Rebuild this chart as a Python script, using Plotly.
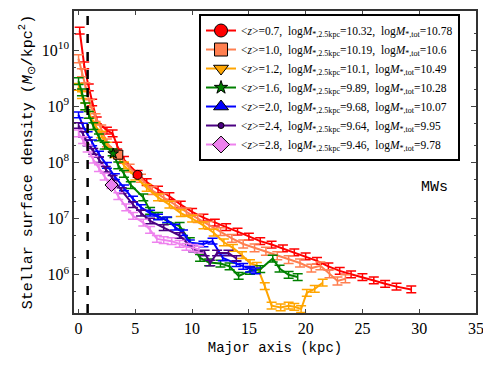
import numpy as np
import plotly.graph_objects as go

# %% data (x in kpc, y as log10 surface density)
x_z07 = [0.1, 0.5, 0.9, 1.2, 1.6, 2.5, 3.0, 3.4, 4.0, 5.2, 6, 7, 8, 9, 10, 11, 12, 13, 14, 15, 16, 17,
         18, 19, 20, 21, 22, 23, 24, 25, 26, 27, 28, 29.3]
y_z07 = [10.35, 9.73, 9.34, 9.07, 8.75, 8.57, 8.52, 8.3, 8.05, 7.8, 7.65, 7.52, 7.4, 7.25, 7.12, 7.02,
         6.93, 6.85, 6.77, 6.68, 6.6, 6.54, 6.47, 6.4, 6.33, 6.25, 6.15, 6.07, 6.01, 5.96, 5.9, 5.84,
         5.79, 5.74]

x_z10 = [0.0, 0.3, 0.6, 1.0, 1.5, 2.0, 2.5, 3.5, 4.5, 5.5, 6.5, 7.5, 8.5, 9.5, 10.5, 11.5, 12.5, 13.5,
         14.5, 15.5, 16.5, 17.5, 18.5, 19.5, 20.5, 21.3, 22.1, 22.8, 23.5]
y_z10 = [9.85, 9.6, 9.35, 9.05, 8.8, 8.6, 8.35, 8.14, 7.9, 7.72, 7.5, 7.38, 7.25, 7.12, 7.0, 6.88, 6.77,
         6.65, 6.55, 6.48, 6.42, 6.34, 6.27, 6.21, 6.12, 6.16, 6.02, 5.89, 5.93]

x_z12 = [0.0, 0.3, 0.6, 1.0, 1.5, 2.0, 2.5, 3.2, 4.0, 5.0, 6.0, 7.0, 8.0, 9.0, 10.0, 11.0, 11.9, 12.8,
         13.6, 14.4, 15.1, 15.7, 16.4, 17.0, 17.8, 18.5, 19.0, 19.6, 20.1, 20.8, 21.5]
y_z12 = [9.35, 9.2, 9.0, 8.85, 8.65, 8.5, 8.3, 8.15, 7.95, 7.75, 7.55, 7.38, 7.25, 7.1, 7.0, 6.88, 6.75,
         6.58, 6.48, 6.35, 6.21, 6.16, 5.8, 5.45, 5.42, 5.45, 5.43, 5.39, 5.68, 5.75, 5.86]

x_z16 = [0.0, 0.3, 0.6, 0.9, 1.3, 1.8, 2.3, 3.0, 3.5, 4.0, 4.6, 5.7, 6.3, 7.0, 7.8, 8.9, 9.8, 10.7, 11.5,
         12.5, 13.3, 14.1, 15.1, 16.0, 17.1, 17.7, 18.5, 19.3]
y_z16 = [9.45, 9.25, 9.0, 8.85, 8.65, 8.45, 8.3, 8.18, 7.95, 7.8, 7.6, 7.38, 7.14, 7.05, 6.96, 6.87, 6.6,
         6.3, 6.22, 6.2, 6.15, 5.98, 6.07, 6.1, 6.29, 6.11, 6.0, 5.96]

x_z20 = [0.0, 0.4, 0.8, 1.2, 1.8, 2.5, 3.2, 4.0, 4.8, 5.5, 6.3, 7.0, 7.8, 8.5, 9.2, 9.8, 11.0, 11.8,
         12.7, 13.9, 14.5, 15.1, 15.6]
y_z20 = [8.85, 8.65, 8.5, 8.35, 8.15, 7.95, 7.75, 7.55, 7.35, 7.2, 7.1, 7.03, 6.98, 6.85, 6.75, 6.57,
         6.55, 6.6, 6.3, 6.2, 6.15, 6.1, 6.07]

x_z24 = [0.0, 0.4, 0.8, 1.3, 1.8, 2.4, 3.0, 3.8, 4.8, 5.5, 6.3, 7.5, 8.9, 10.1, 11.1, 11.6, 12.2, 13.2, 13.9]
y_z24 = [8.66, 8.5, 8.35, 8.2, 8.05, 7.88, 7.72, 7.5, 7.25, 7.1, 6.96, 6.84, 6.7, 6.46, 6.39, 6.21, 6.39,
         6.39, 6.29]

x_z28 = [0.0, 0.4, 0.8, 1.3, 1.8, 2.3, 2.9, 3.5, 4.2, 4.8, 5.7, 6.3, 6.9, 7.5, 8.2, 8.9, 9.5, 10.1, 10.6]
y_z28 = [8.52, 8.4, 8.25, 8.05, 7.9, 7.75, 7.6, 7.4, 7.2, 7.05, 6.93, 6.8, 6.64, 6.62, 6.6, 6.55, 6.5,
         6.48, 6.45]

# error bars in dex, one per series
err_dex = [0.06, 0.07, 0.06, 0.06, 0.05, 0.05, 0.06]

# single marker drawn on some profiles (x kpc, log y); None = not visible
mark_x = [5.2, 3.5, None, 3.05, None, None, 2.9]
mark_y = [7.78, 8.14, None, 8.16, None, None, 7.6]

z_mean = ['0.7', '1.0', '1.2', '1.6', '2.0', '2.4', '2.8']
logm_25 = ['10.32', '10.19', '10.1', '9.89', '9.68', '9.64', '9.46']
logm_tot = ['10.78', '10.6', '10.49', '10.28', '10.07', '9.95', '9.78']

r_inner = 0.8  # dashed line, kpc

colors = ['#FF0000', '#FF7F50', '#FFA500', '#008000', '#0000FF', '#4B0082', '#EE82EE']
symbols = ['circle', 'square', 'triangle-down', 'star', 'triangle-up', 'circle', 'diamond']
leg_sizes = [13, 13, 13, 10, 13, 6, 13]
plot_sizes = [9, 9, 9, 8, 9, 5, 10]

xs = [x_z07, x_z10, x_z12, x_z16, x_z20, x_z24, x_z28]
ys = [y_z07, y_z10, y_z12, y_z16, y_z20, y_z24, y_z28]

serif = 'Liberation Serif'
mono = 'Liberation Mono'

fig = go.Figure()

# profiles with error bars
for i in range(7):
    y = 10 ** np.array(ys[i])
    e = err_dex[i]
    fig.add_trace(go.Scatter(
        x=xs[i], y=y, mode='lines', showlegend=False,
        line=dict(color=colors[i], width=2),
        error_y=dict(type='data', symmetric=False,
                     array=y * (10 ** e - 1), arrayminus=y * (1 - 10 ** -e),
                     color=colors[i], thickness=1.5, width=5),
    ))

# markers on the curves
for i in range(7):
    if mark_x[i] is None:
        continue
    fig.add_trace(go.Scatter(
        x=[mark_x[i]], y=[10 ** mark_y[i]], mode='markers', showlegend=False,
        marker=dict(symbol=symbols[i], size=plot_sizes[i], color=colors[i],
                    line=dict(color='black', width=1)),
    ))

# legend entries
for i in range(7):
    name = ('&lt;<i>z</i>&gt;=' + z_mean[i] + ',  log<i>M</i><sub>*,2.5kpc</sub>=' + logm_25[i] +
            ',  log<i>M</i><sub>*,tot</sub>=' + logm_tot[i])
    fig.add_trace(go.Scatter(
        x=[None], y=[None], mode='lines+markers', name=name,
        line=dict(color=colors[i], width=2),
        marker=dict(symbol=symbols[i], size=leg_sizes[i], color=colors[i],
                    line=dict(color='black', width=1)),
    ))

fig.add_vline(x=r_inner, line=dict(color='black', width=2.5, dash='dash'))

fig.add_annotation(x=0.935, y=0.414, xref='paper', yref='paper', text='MWs', showarrow=False,
                   font=dict(family=mono, size=15, color='black'))

# page body has an 8px margin, so the figure is sized for the rest of the window
fig.update_layout(
    width=483, height=360,
    margin=dict(l=66, r=15, t=3, b=55),
    plot_bgcolor='white', paper_bgcolor='white',
    font=dict(family=serif, color='black'),
    legend=dict(x=0.311, y=0.99, xanchor='left', yanchor='top',
                bordercolor='black', borderwidth=2, bgcolor='white',
                font=dict(family=serif, size=11.5), tracegroupgap=0),
)

fig.update_xaxes(
    range=[-0.4, 35], tickvals=[0, 5, 10, 15, 20, 25, 30, 35], automargin=False,
    ticks='inside', ticklen=4, showline=True, linecolor='#333', linewidth=1.5, mirror='ticks',
    showgrid=False, zeroline=False, tickfont=dict(family=serif, size=16),
    title=dict(text='Major axis (kpc)', font=dict(family=mono, size=14), standoff=6),
)

fig.update_yaxes(
    type='log', range=[5.32, 10.7], automargin=False,
    tickvals=[1e6, 1e7, 1e8, 1e9, 1e10],
    ticktext=['10<sup>6</sup>', '10<sup>7</sup>', '10<sup>8</sup>', '10<sup>9</sup>', '10<sup>10</sup>'],
    ticks='inside', ticklen=5, showline=True, linecolor='#333', linewidth=1.5, mirror='ticks',
    minor=dict(ticks='inside', ticklen=2.5, showgrid=False),
    showgrid=False, zeroline=False, tickfont=dict(family=serif, size=16),
    title=dict(text='Stellar surface density (<i>M</i><sub>⊙</sub>/kpc<sup>2</sup>)',
               font=dict(family=mono, size=15), standoff=6),
)

fig.write_html("out.html")
